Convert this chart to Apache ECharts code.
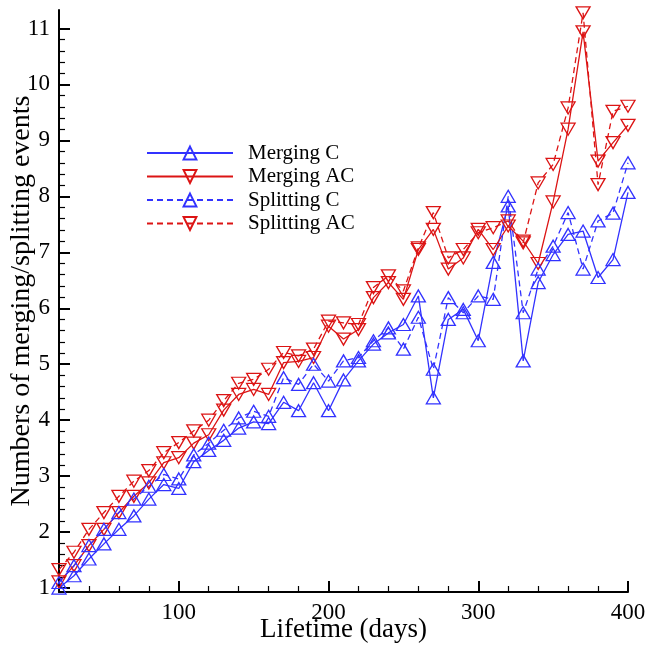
<!DOCTYPE html>
<html>
<head>
<meta charset="utf-8">
<title>Merging and splitting events vs. lifetime</title>
<script src="https://cdn.jsdelivr.net/npm/echarts@6/dist/echarts.min.js"></script>
<style>
  html, body { margin: 0; padding: 0; background: #fff; }
  #chart { width: 648px; height: 645px; }
</style>
</head>
<body>
<div id="chart"></div>
<script>
// Lifetime in days (every 10 days from 20 to 400)
const days = [20, 30, 40, 50, 60, 70, 80, 90, 100, 110, 120, 130, 140, 150, 160, 170, 180, 190, 200,
  210, 220, 230, 240, 250, 260, 270, 280, 290, 300, 310, 320, 330, 340, 350, 360, 370, 380, 390, 400];

const mergingC = [1.00, 1.22, 1.52, 1.79, 2.05, 2.29, 2.59, 2.85, 2.78, 3.26, 3.46, 3.64, 3.86, 3.97, 3.94,
  4.32, 4.17, 4.67, 4.17, 4.72, 5.06, 5.36, 5.56, 5.71, 6.22, 4.40, 5.80, 5.98, 5.42, 6.82, 7.83, 5.06,
  6.46, 6.96, 7.32, 7.38, 6.55, 6.87, 8.07];

const mergingAC = [1.11, 1.40, 1.76, 2.05, 2.35, 2.64, 2.88, 3.24, 3.33, 3.59, 3.74, 4.18, 4.46, 4.55, 4.46,
  5.03, 5.05, 5.12, 5.68, 5.45, 5.62, 6.19, 6.46, 6.16, 7.05, 7.41, 6.70, 6.90, 7.41, 7.05, 7.47, 7.20,
  6.80, 7.90, 9.20, 10.94, 8.63, 8.96, 9.27];

const splittingC = [1.10, 1.40, 1.76, 2.05, 2.35, 2.59, 2.82, 3.03, 2.95, 3.38, 3.59, 3.82, 4.04, 4.16, 4.07,
  4.76, 4.64, 5.00, 4.70, 5.06, 5.12, 5.42, 5.65, 5.27, 5.84, 4.91, 6.19, 5.92, 6.22, 6.16, 8.00, 5.92,
  6.70, 7.11, 7.71, 6.70, 7.56, 7.70, 8.60];

const splittingAC = [1.33, 1.64, 2.05, 2.35, 2.64, 2.91, 3.10, 3.42, 3.60, 3.81, 4.00, 4.35, 4.66, 4.73, 4.91,
  5.21, 5.15, 5.27, 5.77, 5.74, 5.71, 6.37, 6.58, 6.31, 7.08, 7.71, 6.90, 7.05, 7.35, 7.44, 7.56, 7.17,
  8.24, 8.57, 9.58, 11.28, 8.21, 9.52, 9.61];

// Tick positions
const xMajorTicks = [100, 200, 300, 400];
const xMinorTicks = [40, 60, 80, 120, 140, 160, 180, 220, 240, 260, 280, 320, 340, 360, 380];
const yMajorTicks = [1, 2, 3, 4, 5, 6, 7, 8, 9, 10, 11];
const yMinorTicks = [];
for (let i = 1; i < 11; i++) {
  for (let k = 1; k <= 4; k++) yMinorTicks.push(+(i + k * 0.2).toFixed(1));
}

const BLUE = '#3232ff';
const RED = '#dc1414';
const FONT = '"Liberation Serif", "Times New Roman", serif';
const UP = 'path://M5,0 L10,9 L0,9 Z';
const DOWN = 'path://M0,0 L10,0 L5,9 Z';

function makeSeries(name, values, color, symbol, dashed) {
  return {
    name: name,
    type: 'line',
    xAxisIndex: 0,
    yAxisIndex: 0,
    data: days.map((d, i) => [d, values[i]]),
    symbol: symbol,
    symbolSize: [14, 12],
    showAllSymbol: true,
    lineStyle: { color: color, width: 1.3, type: dashed ? [6, 4] : 'solid' },
    itemStyle: { color: 'rgba(255,255,255,0)', borderColor: color, borderWidth: 1.3 },
    emphasis: { disabled: true }
  };
}

const X_MIN = 20, X_MAX = 400, Y_MIN = 0.93, Y_MAX = 11.33;

const chart = echarts.init(document.getElementById('chart'), null, { renderer: 'canvas' });
chart.setOption({
  animation: false,
  backgroundColor: '#fff',
  grid: { left: 59, right: 20, top: 10, bottom: 53, containLabel: false, outerBoundsMode: 'none' },
  legend: {
    orient: 'vertical',
    left: 146,
    top: 142.5,
    padding: 0,
    itemWidth: 86,
    itemHeight: 16,
    itemGap: 2.5,
    selectedMode: false,
    textStyle: { fontFamily: FONT, fontSize: 21, color: '#000', padding: [0, 0, 0, 10], lineHeight: 16 },
    data: ['Merging C', 'Merging AC', 'Splitting C', 'Splitting AC']
  },
  xAxis: [
    {
      type: 'value', min: X_MIN, max: X_MAX, position: 'bottom',
      name: 'Lifetime (days)', nameLocation: 'middle', nameGap: 24, nameMoveOverlap: false,
      nameTextStyle: { fontFamily: FONT, fontSize: 27, color: '#000' },
      axisLine: { show: true, lineStyle: { color: '#000', width: 2 } },
      axisTick: { show: true, inside: true, length: 11, customValues: xMajorTicks, lineStyle: { color: '#000', width: 2 } },
      axisLabel: { show: true, customValues: xMajorTicks, margin: 9, fontFamily: FONT, fontSize: 23, color: '#000' },
      splitLine: { show: false }
    },
    {
      type: 'value', min: X_MIN, max: X_MAX, position: 'bottom', offset: 0,
      axisLine: { show: false },
      axisTick: { show: true, inside: true, length: 6, customValues: xMinorTicks, lineStyle: { color: '#000', width: 1.2 } },
      axisLabel: { show: false },
      splitLine: { show: false }
    }
  ],
  yAxis: [
    {
      type: 'value', min: Y_MIN, max: Y_MAX, position: 'left',
      name: 'Numbers of merging/splitting events', nameLocation: 'middle', nameGap: 23, nameRotate: 90,
      nameMoveOverlap: false,
      nameTextStyle: { fontFamily: FONT, fontSize: 28, color: '#000' },
      axisLine: { show: true, lineStyle: { color: '#000', width: 2 } },
      axisTick: { show: true, inside: true, length: 11, customValues: yMajorTicks, lineStyle: { color: '#000', width: 2 } },
      axisLabel: { show: true, customValues: yMajorTicks, margin: 9, fontFamily: FONT, fontSize: 23, color: '#000' },
      splitLine: { show: false }
    },
    {
      type: 'value', min: Y_MIN, max: Y_MAX, position: 'left', offset: 0,
      axisLine: { show: false },
      axisTick: { show: true, inside: true, length: 6, customValues: yMinorTicks, lineStyle: { color: '#000', width: 1.2 } },
      axisLabel: { show: false },
      splitLine: { show: false }
    }
  ],
  series: [
    makeSeries('Merging C', mergingC, BLUE, UP, false),
    makeSeries('Merging AC', mergingAC, RED, DOWN, false),
    makeSeries('Splitting C', splittingC, BLUE, UP, true),
    makeSeries('Splitting AC', splittingAC, RED, DOWN, true)
  ]
});
</script>
</body>
</html>
